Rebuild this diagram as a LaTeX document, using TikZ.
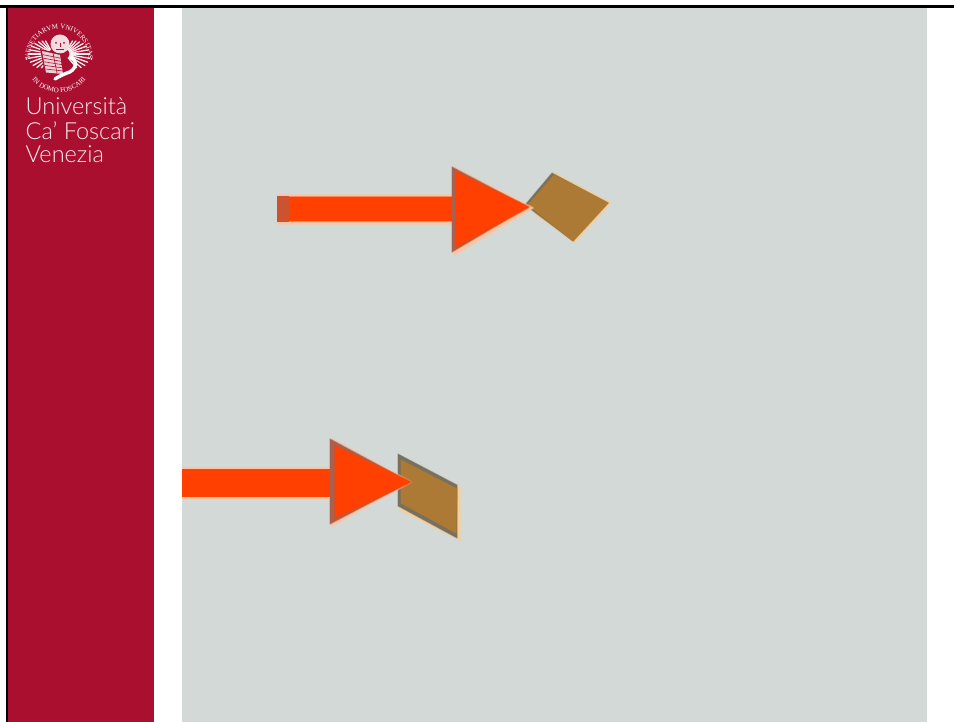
\documentclass[tikz,border=0pt]{standalone}
\usepackage{fontspec}
\setmainfont{Lato Light}
\newfontfamily\sealfont{Liberation Serif}
\usetikzlibrary{decorations.text}
\definecolor{cfred}{HTML}{AB0F30}
\definecolor{slidegrey}{HTML}{D3D9D6}
\definecolor{arrowred}{HTML}{FF4000}
\definecolor{arrowdark}{HTML}{A8604F}
\definecolor{halo}{HTML}{FFC3A0}
\definecolor{mud}{HTML}{AD7A35}
\definecolor{mudedge}{HTML}{77705F}
\definecolor{mudhalo}{HTML}{F3D09A}
\tikzset{
  logotext/.style={anchor=base west,inner sep=0pt,text=white!92!cfred,font=\fontsize{23.5}{23.5}\selectfont},
  feather/.style={draw=white!92!cfred,line width=1.3pt,line cap=round},
  sealtext/.style={decorate,decoration={text along path,text align=center,
     text={|\sealfont\fontsize{7}{8}\selectfont\color{white}|#1}}},
  softred/.style={fill=arrowred,draw=arrowred,draw opacity=0.45,line width=2pt,line join=round},
  softhalo/.style={fill=halo,draw=halo,draw opacity=0.5,line width=2pt,line join=round},
  softmud/.style={fill=mud,draw=mud,draw opacity=0.5,line width=1.5pt,line join=round},
  softedge/.style={fill=mudedge,draw=mudedge,draw opacity=0.4,line width=1.2pt,line join=round},
  softdark/.style={fill=arrowdark,draw=arrowdark,draw opacity=0.4,line width=1.5pt,line join=round}
}
\begin{document}
\begin{tikzpicture}[x=1pt,y=-1pt]
\useasboundingbox (0,0) rectangle (954,722);
\fill[white] (0,0) rectangle (954,722);
% slide frame
\fill[black] (0,5) rectangle (954,8);
\fill[black] (6,5) rectangle (8,722);
\fill[cfred] (8,8) rectangle (154,722);
\fill[slidegrey] (182,8) rectangle (927,722);
% seal
\begin{scope}[shift={(59,58)},y=1pt]
  \path[sealtext={VENETIARVM VNIVERSITAS}] (-28,-8) arc[start angle=196,end angle=-16,radius=29.2];
  \path[sealtext={IN DOMO FOSCARI}] (-32,-13) arc[start angle=202,end angle=338,radius=34.5];
  \fill[white] (-32.5,-1) circle (0.9);
  \fill[white] (32.5,-1) circle (0.9);
  % wings
  \foreach \a/\l in {-50/19,-40/22,-30/24,-20/25,-10/26,0/26,10/25,20/24,30/22,40/20,50/18,60/16}{
    \draw[feather] (6,4) ++(\a:5) -- ++(\a:\l-6);
    \draw[feather] (-6,4) ++(180-\a:5) -- ++(180-\a:\l-6);
  }
  % head
  \fill[white!85!cfred] (1,14) circle (9.5);
  \fill[cfred] (-3,15) circle (1);
  \fill[cfred] (5,15) circle (1);
  \draw[cfred,line width=0.7pt] (1,15) -- (1,11) (-3,8.5) -- (5,8.5);
  % book
  \fill[cfred] (-19,9) -- (2,4) -- (6,-18) -- (-14,-16) -- cycle;
  \fill[white!80!cfred] (-17,7) -- (1,3) -- (4,-16) -- (-13,-14.5) -- cycle;
  \foreach \t in {1,...,5}
    \draw[cfred,line width=0.6pt] (-17+\t*0.7,7-\t*3.6) -- (1+\t*0.6,3-\t*3.2);
  \draw[cfred,line width=0.6pt] (-6,5) -- (-2,-15);
  % tail
  \draw[white,line width=3.4pt,line cap=round] (12,1) .. controls (20,-4) and (16,-13) .. (8,-15) .. controls (3,-17) and (-1,-19) .. (-4,-21);
\end{scope}
% institution name
\node[logotext] (uni) at (25.5,115) {Università};
\node[logotext] (cafo) at (25.5,140) {Ca' Foscari};
\node[logotext] (ven) at (25.5,163) {Venezia};
% upper diamond
\fill[mudhalo,draw=mudhalo,draw opacity=.5,line width=2pt,line join=round] (555,173) -- (611,203) -- (575,242) -- (535,214) -- cycle;
\path[softedge] (525,205) -- (552,173) -- (608,203) -- (573,241) -- cycle;
\path[softmud] (528,205) -- (554,175) -- (608,203) -- (573,241) -- cycle;
% upper arrow
\path[softhalo] (454,167) -- (533,208) -- (454,255) -- cycle;
\path[softhalo] (278,195) rectangle (455,224);
\path[softred] (279,197) rectangle (455,221);
\fill[arrowdark!60!arrowred] (277,196) rectangle (289,222);
\path[softdark] (452,167) -- (528,207) -- (452,252) -- cycle;
\path[softred] (456,172) -- (529,207) -- (456,247) -- cycle;
% lower diamond
\fill[mudhalo,draw=mudhalo,draw opacity=.5,line width=2pt,line join=round] (400,456) -- (460,487) -- (460,540) -- (400,510) -- cycle;
\path[softedge] (398,454) -- (457,485) -- (457,538) -- (398,506) -- cycle;
\path[softmud] (401,460) -- (457,489) -- (456,533) -- (401,503) -- cycle;
% lower arrow
\path[softhalo] (332,439) -- (411,482) -- (332,526) -- cycle;
\fill[halo] (182,467) rectangle (335,499);
\fill[arrowred] (182,469) rectangle (335,497);
\path[softdark] (330,439) -- (410,482) -- (330,524) -- cycle;
\path[softred] (335,446) -- (411,482) -- (335,518) -- cycle;
\end{tikzpicture}
\end{document}
